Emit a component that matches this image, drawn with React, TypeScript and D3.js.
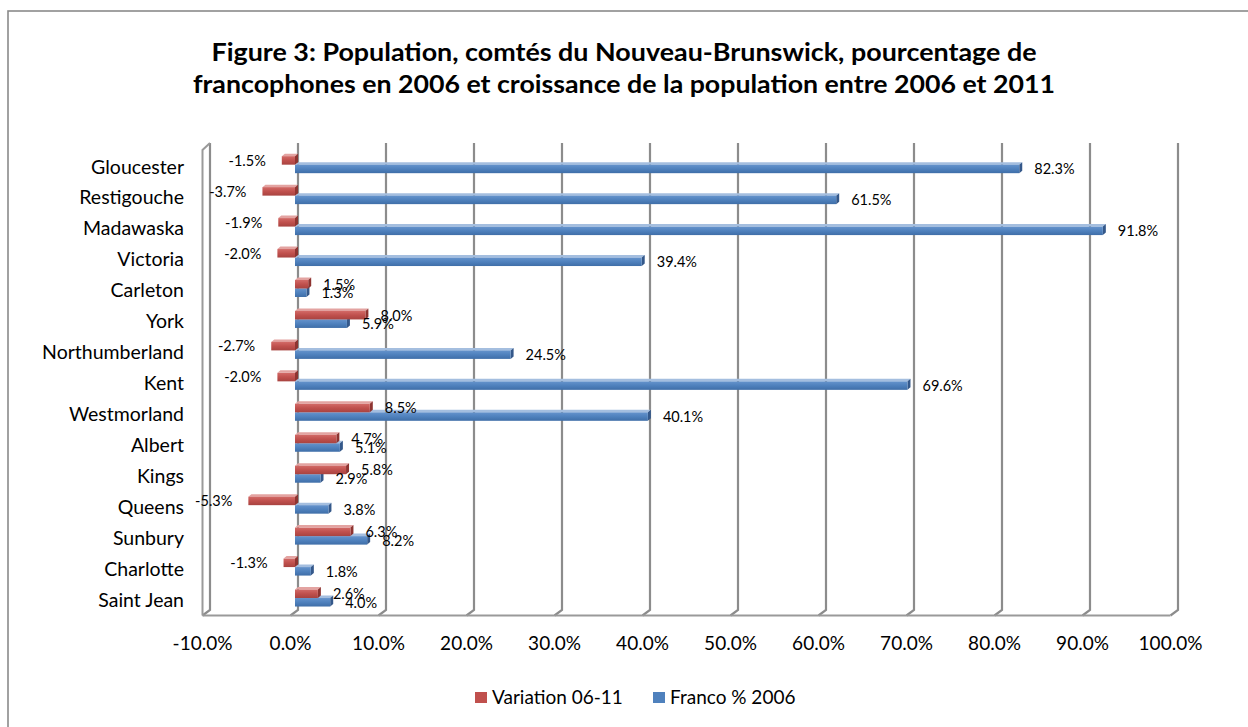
import React from "react";
import * as d3 from "d3";

const categories = ["Gloucester","Restigouche","Madawaska","Victoria","Carleton","York","Northumberland","Kent","Westmorland","Albert","Kings","Queens","Sunbury","Charlotte","Saint Jean"];
const variation = [-1.5,-3.7,-1.9,-2.0,1.5,8.0,-2.7,-2.0,8.5,4.7,5.8,-5.3,6.3,-1.3,2.6];
const franco = [82.3,61.5,91.8,39.4,1.3,5.9,24.5,69.6,40.1,5.1,2.9,3.8,8.2,1.8,4.0];
const ticks = [-10,0,10,20,30,40,50,60,70,80,90,100];
const titleLines = [
  "Figure 3: Population, comtés du Nouveau-Brunswick, pourcentage de",
  "francophones en 2006 et croissance de la population entre 2006 et 2011",
];
const titleWidths = [825, 862];
const seriesNames = ["Variation 06-11", "Franco % 2006"];

const W = 1248, H = 727;
const FONT = "Lato, 'Open Sans', sans-serif";

export default function App() {
  const x = d3.scaleLinear().domain([-10, 100]).range([210, 1178]);
  const y = d3.scaleBand<string>().domain(categories).range([151.2, 615.5]);
  const c = (cat: string) => (y(cat) as number) + y.bandwidth() / 2;
  const backTop = 143, backBottom = 610, ddx = -7.5, ddy = 5.5;
  const bx = (v: number) => x(v) - 3;
  const bh = 8.5, bdx = 3, bdy = -2.5;
  const fmt = (v: number) => v.toFixed(1) + "%";

  const bar = (v: number, top: number, col: { top: string; side: string; grad: string }, key: string) => {
    const a = bx(0), b = bx(v);
    const l = Math.min(a, b), r = Math.max(a, b);
    return (
      <g key={key}>
        <polygon points={`${l},${top} ${l + bdx},${top + bdy} ${r + bdx},${top + bdy} ${r},${top}`} fill={col.top} />
        <polygon points={`${r},${top} ${r + bdx},${top + bdy} ${r + bdx},${top + bdy + bh} ${r},${top + bh}`} fill={col.side} />
        <rect x={l} y={top} width={r - l} height={bh} fill={`url(#${col.grad})`} />
      </g>
    );
  };
  const red = { top: "#E3A3A1", side: "#8E3431", grad: "gRed" };
  const blue = { top: "#A4BEDF", side: "#34588A", grad: "gBlue" };

  const label = (v: number, yy: number, key: string) => {
    const b = bx(v);
    return v >= 0 ? (
      <text key={key} x={b + 15} y={yy} dy="0.35em" fontSize={14.5} fontFamily={FONT} fill="#000">{fmt(v)}</text>
    ) : (
      <text key={key} x={b - 16} y={yy} dy="0.35em" fontSize={14.5} fontFamily={FONT} fill="#000" textAnchor="end">{fmt(v)}</text>
    );
  };

  return (
    <svg width={W} height={H} style={{ position: "absolute", left: 0, top: 0, background: "#fff" }}>
      <defs>
        <linearGradient id="gRed" x1="0" y1="0" x2="0" y2="1">
          <stop offset="0" stopColor="#D26A67" />
          <stop offset="0.5" stopColor="#C0504D" />
          <stop offset="1" stopColor="#A84340" />
        </linearGradient>
        <linearGradient id="gBlue" x1="0" y1="0" x2="0" y2="1">
          <stop offset="0" stopColor="#6593CC" />
          <stop offset="0.5" stopColor="#4F81BD" />
          <stop offset="1" stopColor="#3F6EA8" />
        </linearGradient>
      </defs>
      <rect x={0} y={0} width={W} height={H} fill="#fff" />
      <rect x={8} y={11} width={W + 10} height={H + 10} fill="none" stroke="#8a8a8a" strokeWidth={1.6} />

      {titleLines.map((t, i) => (
        <text key={t} x={624} y={61 + i * 32} textAnchor="middle" fontSize={24.5} fontWeight="bold" fontFamily={FONT} fill="#000"
          textLength={titleWidths[i]} lengthAdjust="spacingAndGlyphs">{t}</text>
      ))}

      {ticks.map((t) => (
        <path key={"g" + t}
          d={`M${x(t)},${backTop} L${x(t)},${backBottom} L${x(t) + ddx},${backBottom + ddy}`}
          fill="none" stroke="#8c8c8c" strokeWidth={2.2} />
      ))}
      <path d={`M${x(-10) + ddx},${backBottom + ddy} L${x(-10) + ddx},${backTop + ddy + 1.5} L${x(-10)},${backTop}`} fill="none" stroke="#9a9a9a" strokeWidth={2} />
      <line x1={x(-10) + ddx} x2={x(100) + ddx} y1={backBottom + ddy} y2={backBottom + ddy} stroke="#9a9a9a" strokeWidth={2} />

      {categories.map((cat, i) => {
        const cc = c(cat);
        return (
          <g key={cat}>
            {bar(franco[i], cc - 2, blue, "b")}
            {bar(variation[i], cc - 10.5, red, "r")}
          </g>
        );
      })}

      {categories.map((cat, i) => {
        const cc = c(cat);
        return (
          <g key={"l" + cat}>
            {label(variation[i], cc - 6, "r")}
            {label(franco[i], cc + 2.6, "b")}
          </g>
        );
      })}

      {categories.map((cat) => (
        <text key={"c" + cat} x={184} y={c(cat)} dy="0.35em" textAnchor="end" fontSize={19.5} fontFamily={FONT} fill="#000">{cat}</text>
      ))}

      {ticks.map((t) => (
        <text key={"t" + t} x={x(t) - 7.5} y={643} dy="0.35em" textAnchor="middle" fontSize={19} fontFamily={FONT} fill="#000">{fmt(t)}</text>
      ))}

      <rect x={475} y={692} width={12} height={11} fill="#C0504D" />
      <text x={492} y={697.5} dy="0.35em" fontSize={19} fontFamily={FONT} fill="#000">{seriesNames[0]}</text>
      <rect x={653} y={692} width={12} height={11} fill="#4F81BD" />
      <text x={670} y={697.5} dy="0.35em" fontSize={19} fontFamily={FONT} fill="#000">{seriesNames[1]}</text>
    </svg>
  );
}
